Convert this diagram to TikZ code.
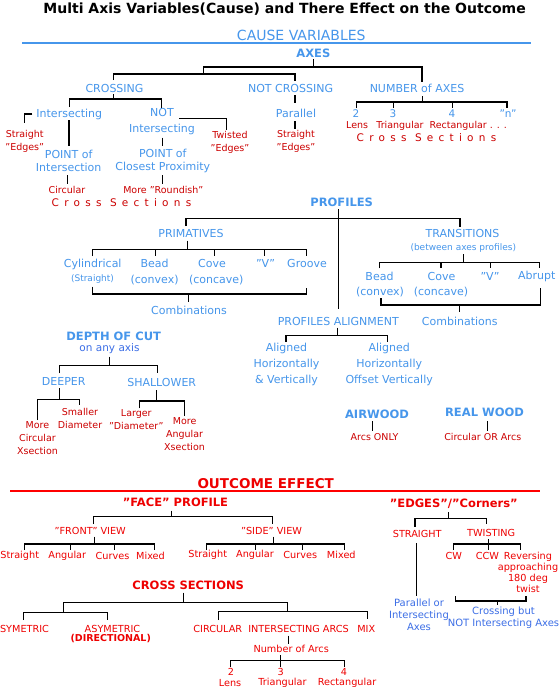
\documentclass[tikz,border=0pt]{standalone}
\usepackage{fontspec}
\setmainfont{DejaVu Sans}
\newfontfamily\spacedfont[LetterSpace=50]{DejaVu Sans}
\definecolor{cblue}{RGB}{70,150,235}
\definecolor{cbluetwo}{RGB}{60,110,230}
\definecolor{cdred}{RGB}{204,0,0}
\definecolor{cred}{RGB}{238,0,0}
\begin{document}
\begin{tikzpicture}[x=1pt,y=-1pt,
  every node/.style={inner sep=0pt, align=center},
  bt/.style={text=cblue, font=\fontsize{11}{16}\selectfont},
  bts/.style={text=cblue, font=\fontsize{9}{11}\selectfont},
  bd/.style={text=cbluetwo, font=\fontsize{10}{12.2}\selectfont},
  bh/.style={text=cblue, font=\bfseries\fontsize{11.5}{13}\selectfont},
  rt/.style={text=cdred, font=\fontsize{9.5}{13.3}\selectfont},
  ro/.style={text=cred, font=\fontsize{9.7}{11.2}\selectfont},
  rh/.style={text=cred, font=\bfseries\fontsize{11.5}{13}\selectfont},
  spc/.style={text=cdred, font=\spacedfont\fontsize{10.5}{12}\selectfont},
  lk/.style={draw=black, line width=1.4pt}]
\useasboundingbox[fill=white] (0,0) rectangle (558,693);

% ---------- title ----------
\node[font=\bfseries\fontsize{14}{16}\selectfont] (title) at (284.6,9) {Multi Axis Variables(Cause) and There Effect on the Outcome};
\node[text=cblue, font=\fontsize{14}{16}\selectfont] (cause) at (301.3,35) {CAUSE VARIABLES};
\draw[cblue, line width=2.4pt] (22,43) -- (531,43);

% ---------- AXES ----------
\node[bh] (axes) at (313.4,53) {AXES};
\draw[lk] (313.5,59) -- (313.5,67);
\draw[lk] (203.3,74) -- (203.3,67) -- (422,67) -- (422,82);
\draw[lk] (113.6,80) -- (113.6,74) -- (294.9,74) -- (294.9,81);
\node[bt] (crossing) at (114.5,88) {CROSSING};
\node[bt] (notcross) at (290.6,88) {NOT CROSSING};
\node[bt] (numaxes) at (417,88.5) {NUMBER of AXES};

\draw[lk] (113.6,94) -- (113.6,99);
\draw[lk] (69.4,107) -- (69.4,99) -- (161.3,99) -- (161.3,108);
\node[bt] (inter) at (69.3,114) {Intersecting};
\node[bt] (notinter) at (162,122) {NOT\\Intersecting};
\draw[lk] (32.3,114) -- (24.3,114) -- (24.3,123.3);
\node[rt] (stredges) at (24.7,141.7) {Straight\\"Edges"};
\draw[lk] (69,120) -- (69,145.7);
\node[bt, font=\fontsize{11}{13.3}\selectfont] (poi) at (68.7,160.7) {POINT of\\Intersection};
\draw[lk] (67.7,175) -- (67.7,184);
\node[rt] (circ) at (67,190) {Circular};
\draw[lk] (179,118.3) -- (226.7,118.3) -- (226.7,130);
\node[rt] (twisted) at (230,142.7) {Twisted\\"Edges"};
\draw[lk] (162.7,137.7) -- (162.7,145.7);
\node[bt, font=\fontsize{11}{13.3}\selectfont] (pocp) at (162.8,160.7) {POINT of\\Closest Proximity};
\draw[lk] (162.7,175) -- (162.7,184);
\node[rt] (roundish) at (163.3,190) {More "Roundish"};
\node[spc] (csleft) at (121.5,202.3) {Cross Sections};

\draw[lk] (295,95) -- (295,103);
\node[bt] (parallel) at (296,113.3) {Parallel};
\draw[lk] (295,121) -- (295,129);
\node[rt] (stredges2) at (296,141.7) {Straight\\"Edges"};

\draw[lk] (422.3,96) -- (422.3,102);
\draw[lk] (356.5,108) -- (356.5,102) -- (507,102) -- (507,108);
\draw[lk] (393.3,102) -- (393.3,108);
\draw[lk] (452.3,102) -- (452.3,108);
\node[bt, font=\fontsize{10.5}{12}\selectfont] (n2) at (356,113.3) {2};
\node[bt, font=\fontsize{10.5}{12}\selectfont] (n3) at (393,113.3) {3};
\node[bt, font=\fontsize{10.5}{12}\selectfont] (n4) at (452,113.3) {4};
\node[bt, font=\fontsize{10.5}{12}\selectfont] (nn) at (508,113.3) {"n"};
\node[rt] (lens) at (357.2,125.5) {Lens};
\node[rt] (tri) at (400,125.5) {Triangular};
\node[rt] (rect) at (468.3,125.5) {Rectangular . . .};
\node[spc] (csright) at (426.5,137.7) {Cross Sections};

% ---------- PROFILES ----------
\node[bh] (profiles) at (341.7,202.7) {PROFILES};
\draw[lk] (338.3,209.3) -- (338.3,309);
\draw[lk] (186,226) -- (186,218.3) -- (460,218.3) -- (460,227.3);
\node[bt] (prim) at (191,233.3) {PRIMATIVES};
\draw[lk] (187.3,240.7) -- (187.3,249.3);
\draw[lk] (92.3,256) -- (92.3,249.3) -- (306.3,249.3) -- (306.3,256);
\foreach \xx in {155.3,214.3,264.3} \draw[lk] (\xx,249.3) -- (\xx,256);
\node[bt] (cyl) at (92.7,264) {Cylindrical};
\node[bts] (cylst) at (92.5,279.3) {(Straight)};
\node[bt] (bead) at (154.6,272) {Bead\\(convex)};
\node[bt] (cove) at (212,263.3) {Cove};
\node[bt] (conc) at (216.3,280) {(concave)};
\node[bt] (vee) at (265.5,263.3) {"V"};
\node[bt] (groove) at (307,263.3) {Groove};
\draw[lk] (92.3,286.7) -- (92.3,294) -- (306.3,294) -- (306.3,287.7);
\draw[lk] (188.3,294) -- (188.3,301.7);
\node[bt] (comb1) at (189,310.7) {Combinations};

\node[bt] (trans) at (462.5,233.3) {TRANSITIONS};
\node[bts] (transsub) at (463.3,248.3) {(between axes profiles)};
\draw[lk] (463.3,254) -- (463.3,262.7);
\draw[lk] (379.3,268.3) -- (379.3,262.7) -- (539.3,262.7) -- (539.3,268.3);
\draw[lk] (441,262.7) -- (441,268.3);
\draw[lk] (490.7,262.7) -- (490.7,268.3);
\node[bt] (bead2) at (379.5,276) {Bead};
\node[bt] (conv2) at (380,291.7) {(convex)};
\node[bt] (cove2) at (441.5,276) {Cove};
\node[bt] (conc2) at (441,291.7) {(concave)};
\node[bt] (vee2) at (490,276) {"V"};
\node[bt] (abrupt) at (536.7,276) {Abrupt};
\draw[lk] (381,298.3) -- (381,305) -- (540.7,305) -- (540.7,288.3);
\draw[lk] (459.3,305) -- (459.3,311.7);
\node[bt] (comb2) at (459.8,321.7) {Combinations};

\node[bt] (palign) at (338.3,321.3) {PROFILES ALIGNMENT};
\draw[lk] (337.7,327.5) -- (337.7,335.5);
\draw[lk] (286,341.7) -- (286,335.5) -- (387.3,335.5) -- (387.3,341.7);
\node[bt] (al1) at (286.5,364.8) {Aligned\\Horizontally\\\& Vertically};
\node[bt] (al2) at (389.2,364.8) {Aligned\\Horizontally\\Offset Vertically};

\node[bh] (airwood) at (377,414.3) {AIRWOOD};
\draw[lk] (372.7,421) -- (372.7,430.7);
\node[rt] (arcsonly) at (374.5,437.3) {Arcs ONLY};
\node[bh] (realwood) at (484.5,412.3) {REAL WOOD};
\draw[lk] (487.7,421) -- (487.7,430.7);
\node[rt] (circarcs) at (482.8,437.3) {Circular OR Arcs};

% ---------- DEPTH OF CUT ----------
\node[bh] (depth) at (113.7,336) {DEPTH OF CUT};
\node[bd, font=\fontsize{10.5}{12}\selectfont] (anyaxis) at (109.5,349) {on any axis};
\draw[lk] (109.3,356.7) -- (109.3,365.7);
\draw[lk] (59.3,373.3) -- (59.3,365.7) -- (157.3,365.7) -- (157.3,373.3);
\node[bt] (deeper) at (63.7,381.7) {DEEPER};
\node[bt] (shallower) at (161.7,382.3) {SHALLOWER};
\draw[lk] (59.3,388.3) -- (59.3,399.3);
\draw[lk] (37.3,420) -- (37.3,399.3) -- (79.3,399.3) -- (79.3,405);
\node[rt] (smaller) at (80,418.3) {Smaller\\Diameter};
\node[rt, font=\fontsize{9.5}{12.9}\selectfont] (morecirc) at (37.5,437.8) {More\\Circular\\Xsection};
\draw[lk] (156.7,390) -- (156.7,401);
\draw[lk] (139.3,408.3) -- (139.3,401) -- (184.3,401) -- (184.3,416);
\node[rt, font=\fontsize{9.5}{12.7}\selectfont] (larger) at (136.3,419.7) {Larger\\"Diameter"};
\node[rt, font=\fontsize{9.5}{13}\selectfont] (moreang) at (184.6,433.8) {More\\Angular\\Xsection};

% ---------- OUTCOME ----------
\node[text=cred, font=\bfseries\fontsize{13.5}{15}\selectfont] (outcome) at (265.7,483.3) {OUTCOME EFFECT};
\draw[red, line width=2.4pt] (10,491) -- (540,491);

\node[rh] (face) at (175.5,502.3) {"FACE" PROFILE};
\draw[lk] (171.7,510.7) -- (171.7,516.7);
\draw[lk] (93.3,524) -- (93.3,516.7) -- (272.7,516.7) -- (272.7,524);
\node[ro] (front) at (90.2,531) {"FRONT" VIEW};
\node[ro] (side) at (271.5,531) {"SIDE" VIEW};
\draw[lk] (94.3,536.7) -- (94.3,544);
\draw[lk] (24.3,550) -- (24.3,544) -- (154.3,544) -- (154.3,550);
\draw[lk] (70.7,544) -- (70.7,550);
\draw[lk] (114.7,544) -- (114.7,550);
\node[ro] (fs) at (19.7,556) {Straight};
\node[ro] (fa) at (67.3,556) {Angular};
\node[ro] (fc) at (112.5,556) {Curves};
\node[ro] (fm) at (150.5,556) {Mixed};
\draw[lk] (273.3,536.7) -- (273.3,544);
\draw[lk] (206.7,550) -- (206.7,544) -- (344.3,544) -- (344.3,550);
\draw[lk] (255.7,544) -- (255.7,550);
\draw[lk] (302.3,544) -- (302.3,550);
\node[ro] (ss) at (207.7,555) {Straight};
\node[ro] (sa) at (255,555) {Angular};
\node[ro] (sc) at (300.3,555) {Curves};
\node[ro] (sm) at (341.3,555) {Mixed};

\node[rh] (edges) at (453.8,503.3) {"EDGES"/"Corners"};
\draw[lk] (448.3,512.3) -- (448.3,518.3);
\draw[lk] (415,526.7) -- (415,518.3) -- (486.7,518.3) -- (486.7,524.3);
\node[ro] (straight) at (417.2,534) {STRAIGHT};
\node[ro] (twisting) at (491.2,532.7) {TWISTING};
\draw[lk] (488.3,539) -- (488.3,550);
\draw[lk] (453.3,550) -- (453.3,544) -- (520.7,544) -- (520.7,550);
\node[ro] (cw) at (453.8,556) {CW};
\node[ro] (ccw) at (487.5,556) {CCW};
\node[ro] (rev) at (528,572.5) {Reversing\\approaching\\180 deg\\twist};
\draw[lk] (416.7,543.3) -- (416.7,596);
\node[bd] (parint) at (419,614.7) {Parallel or\\Intersecting\\Axes};
\draw[lk] (455.7,596) -- (455.7,601) -- (526,601) -- (526,596);
\draw[lk] (497.3,601) -- (497.3,605);
\node[bd] (crossbut) at (503.5,617.8) {Crossing but\\NOT Intersecting Axes};

\node[rh] (cs) at (188.2,585.7) {CROSS SECTIONS};
\draw[lk] (183.3,592.7) -- (183.3,602.3);
\draw[lk] (63.3,612.3) -- (63.3,602.3) -- (287.3,602.3) -- (287.3,611.7);
\draw[lk] (23.3,620) -- (23.3,612.3) -- (107.3,612.3) -- (107.3,620);
\draw[lk] (218.3,620) -- (218.3,611.7) -- (367.3,611.7) -- (367.3,619.3);
\node[ro] (sym) at (24.5,629.3) {SYMETRIC};
\node[ro] (asym) at (112.5,629.3) {ASYMETRIC};
\node[text=cred, font=\bfseries\fontsize{9.5}{11}\selectfont] (direc) at (110.7,639) {(DIRECTIONAL)};
\node[ro] (circular) at (217.8,629.3) {CIRCULAR};
\node[ro] (intarcs) at (298.5,629.3) {INTERSECTING ARCS};
\node[ro] (mix) at (366.3,629.3) {MIX};
\draw[lk] (288.3,635.7) -- (288.3,644);
\node[ro] (numarcs) at (291.2,649.3) {Number of Arcs};
\draw[lk] (280.7,655) -- (280.7,660.7);
\draw[lk] (230.7,666.7) -- (230.7,660.7) -- (344.3,660.7) -- (344.3,666.7);
\draw[lk] (280.7,660.7) -- (280.7,666.7);
\node[ro] (a2) at (231,671.7) {2};
\node[ro] (a3) at (280.7,671.7) {3};
\node[ro] (a4) at (344,671.7) {4};
\node[ro] (alens) at (230,683.3) {Lens};
\node[ro] (atri) at (282.5,683.3) {Triangular};
\node[ro] (arect) at (347,683.3) {Rectangular};
\end{tikzpicture}
\end{document}
